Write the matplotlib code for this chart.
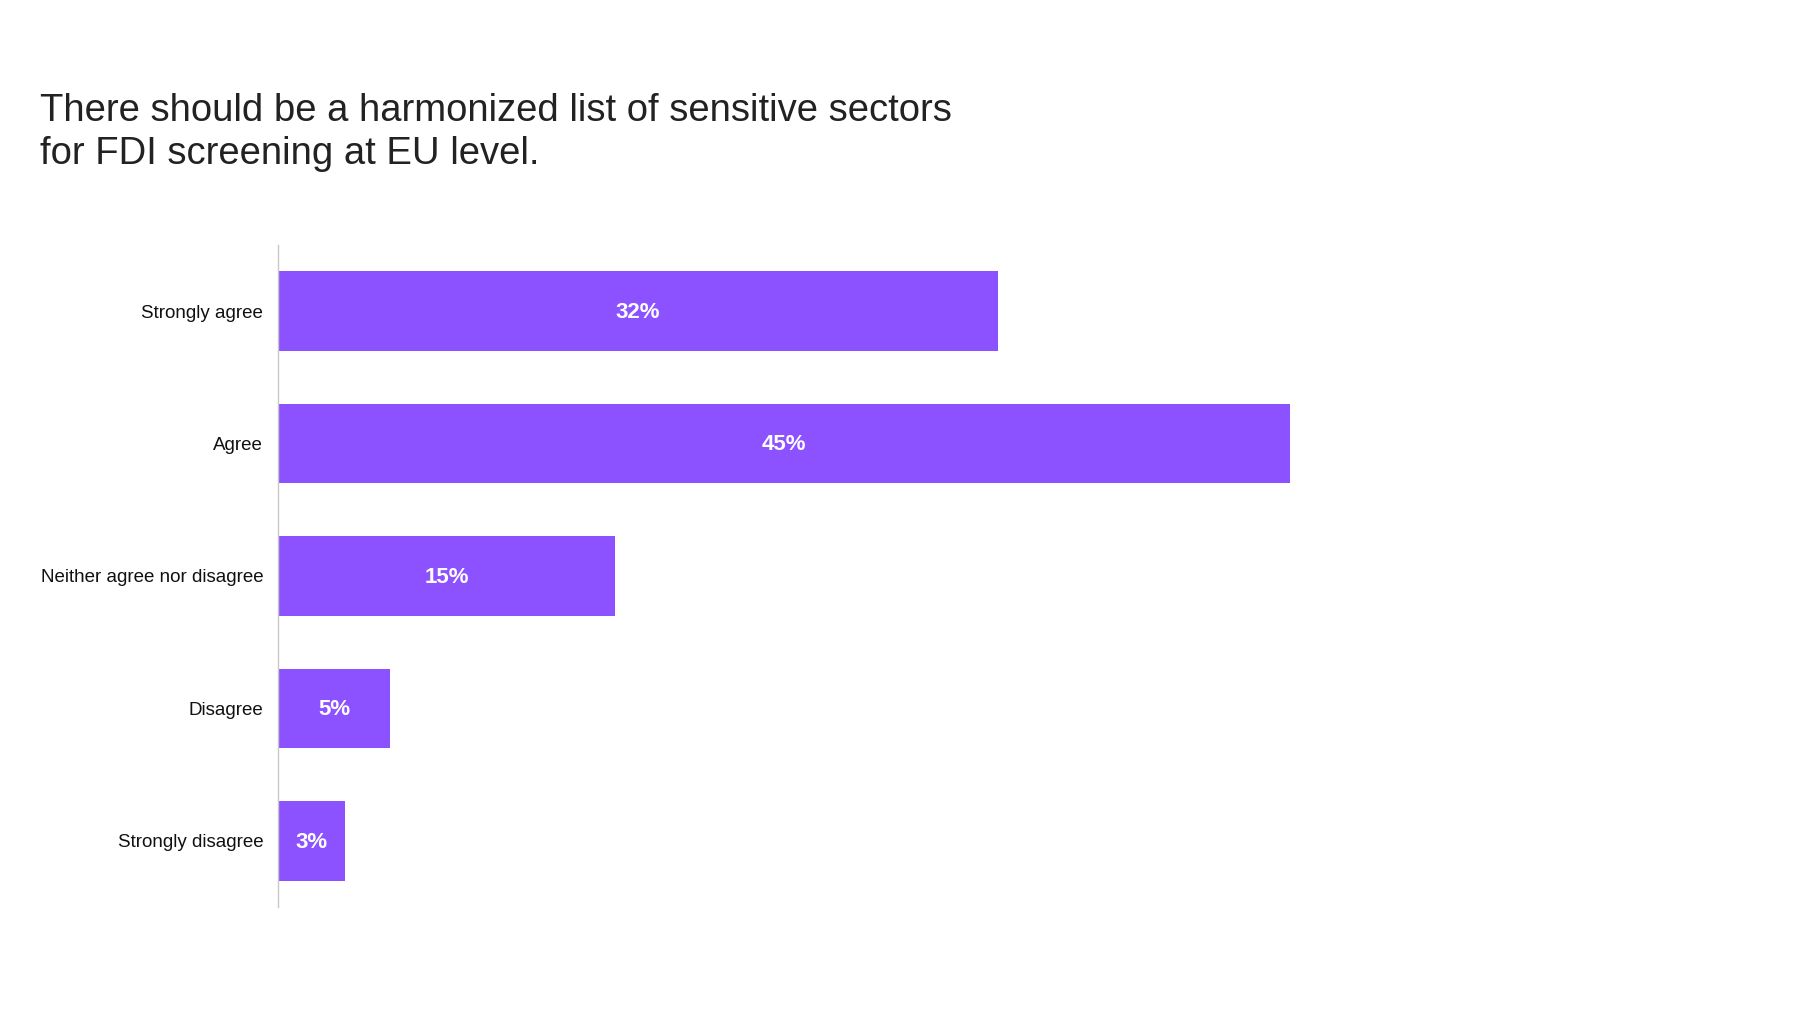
import matplotlib

matplotlib.use("Agg")
import matplotlib.pyplot as plt

# данные опроса
categories = ["Strongly agree", "Agree", "Neither agree nor disagree",
              "Disagree", "Strongly disagree"]
values = [32, 45, 15, 5, 3]
title_lines = ["There should be a harmonized list of sensitive sectors",
               "for FDI screening at EU level."]

plt.rcParams["font.family"] = ["Liberation Sans", "DejaVu Sans"]

fig = plt.figure(figsize=(18, 10.13), dpi=100)
ax = fig.add_axes([0.1544, 1 - 907 / 1013, 0.75, 662 / 1013])

ypos = list(range(len(categories)))
bars = ax.barh(ypos, values, height=0.6, color="#8C52FF")
ax.set_ylim(len(categories) - 0.5, -0.5)
ax.set_xlim(0, 60)

for b, v in zip(bars, values):
    ax.text(b.get_width() / 2, b.get_y() + b.get_height() / 2 + 0.01,
            f"{v}%", ha="center", va="center", color="white",
            fontsize=16, fontweight="bold")

ax.set_yticks(ypos)
ax.set_yticklabels(categories, fontsize=13.5, color="#111111")
ax.tick_params(axis="y", length=0, pad=10.5)
ax.set_xticks([])
for side in ["top", "right", "bottom"]:
    ax.spines[side].set_visible(False)
ax.spines["left"].set_color("#c8c8c8")
ax.spines["left"].set_linewidth(1.0)

fig.text(0.0222, 1 - 120.7 / 1013, title_lines[0], fontsize=27.5,
         color="#222222", va="baseline", ha="left")
fig.text(0.0222, 1 - 163.5 / 1013, title_lines[1], fontsize=27.5,
         color="#222222", va="baseline", ha="left")

fig.savefig("out.png", dpi=100, facecolor="white")
plt.close(fig)
